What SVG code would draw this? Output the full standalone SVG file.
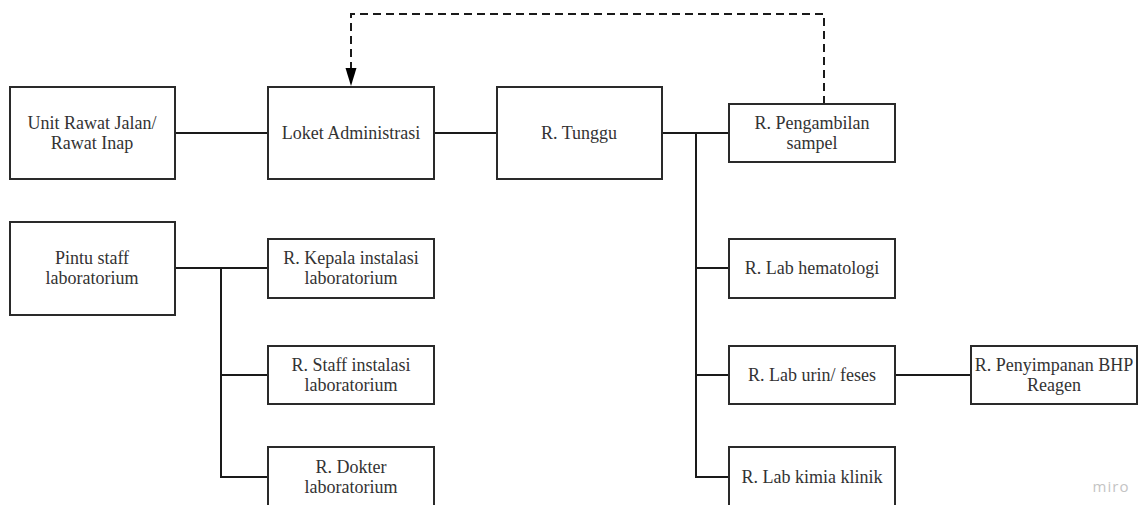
<svg xmlns="http://www.w3.org/2000/svg" width="1141" height="505" viewBox="0 0 1141 505">
<style>
.box{fill:#fff;stroke:#2a2a2a;stroke-width:2}
.t{font-family:"Liberation Serif","Times New Roman",serif;font-size:18px;fill:#333;text-anchor:middle}
.ln{fill:none;stroke:#1a1a1a;stroke-width:2}
.dash{fill:none;stroke:#1a1a1a;stroke-width:2;stroke-dasharray:8 5}
</style>
<rect width="1141" height="505" fill="#fff"/>
<g id="connectors">
<line class="ln" x1="175" y1="133" x2="268" y2="133"/>
<line class="ln" x1="434" y1="133" x2="497" y2="133"/>
<line class="ln" x1="662" y1="133" x2="729" y2="133"/>
<polyline class="ln" points="696,133 696,477 729,477"/>
<line class="ln" x1="696" y1="268" x2="729" y2="268"/>
<line class="ln" x1="696" y1="375" x2="729" y2="375"/>
<line class="ln" x1="895" y1="375" x2="971" y2="375"/>
<line class="ln" x1="175" y1="268" x2="268" y2="268"/>
<polyline class="ln" points="221,268 221,477 268,477"/>
<line class="ln" x1="221" y1="375" x2="268" y2="375"/>
<polyline class="dash" points="824,104 824,14 351,14 351,70"/>
<path d="M345.5,68 L356.5,68 L351,86 z" fill="#000"/>
</g>
<g id="n-unit"><rect class="box" x="10" y="87" width="165" height="92"/><text class="t" x="92" y="129">Unit Rawat Jalan/</text><text class="t" x="92" y="149">Rawat Inap</text></g>
<g id="n-loket"><rect class="box" x="268" y="87" width="166" height="92"/><text class="t" x="351" y="139">Loket Administrasi</text></g>
<g id="n-tunggu"><rect class="box" x="497" y="87" width="165" height="92"/><text class="t" x="579" y="139">R. Tunggu</text></g>
<g id="n-pengambilan"><rect class="box" x="729" y="104" width="166" height="58"/><text class="t" x="812" y="129">R. Pengambilan</text><text class="t" x="812" y="149">sampel</text></g>
<g id="n-pintu"><rect class="box" x="10" y="222" width="165" height="93"/><text class="t" x="92" y="264">Pintu staff</text><text class="t" x="92" y="284">laboratorium</text></g>
<g id="n-kepala"><rect class="box" x="268" y="239" width="166" height="59"/><text class="t" x="351" y="264">R. Kepala instalasi</text><text class="t" x="351" y="284">laboratorium</text></g>
<g id="n-staff"><rect class="box" x="268" y="346" width="166" height="58"/><text class="t" x="351" y="371">R. Staff instalasi</text><text class="t" x="351" y="391">laboratorium</text></g>
<g id="n-dokter"><rect class="box" x="268" y="447" width="166" height="62"/><text class="t" x="351" y="473">R. Dokter</text><text class="t" x="351" y="493">laboratorium</text></g>
<g id="n-hema"><rect class="box" x="729" y="239" width="166" height="59"/><text class="t" x="812" y="274">R. Lab hematologi</text></g>
<g id="n-urin"><rect class="box" x="729" y="346" width="166" height="58"/><text class="t" x="812" y="381">R. Lab urin/ feses</text></g>
<g id="n-penyimpanan"><rect class="box" x="971" y="346" width="166" height="58"/><text class="t" x="1054" y="371">R. Penyimpanan BHP</text><text class="t" x="1054" y="391">Reagen</text></g>
<g id="n-kimia"><rect class="box" x="729" y="447" width="166" height="62"/><text class="t" x="812" y="483">R. Lab kimia klinik</text></g>
<text x="1111" y="492" style="font-family:'Open Sans',sans-serif;font-size:15px;fill:#c4c4c4;text-anchor:middle;letter-spacing:1px">miro</text>
</svg>
